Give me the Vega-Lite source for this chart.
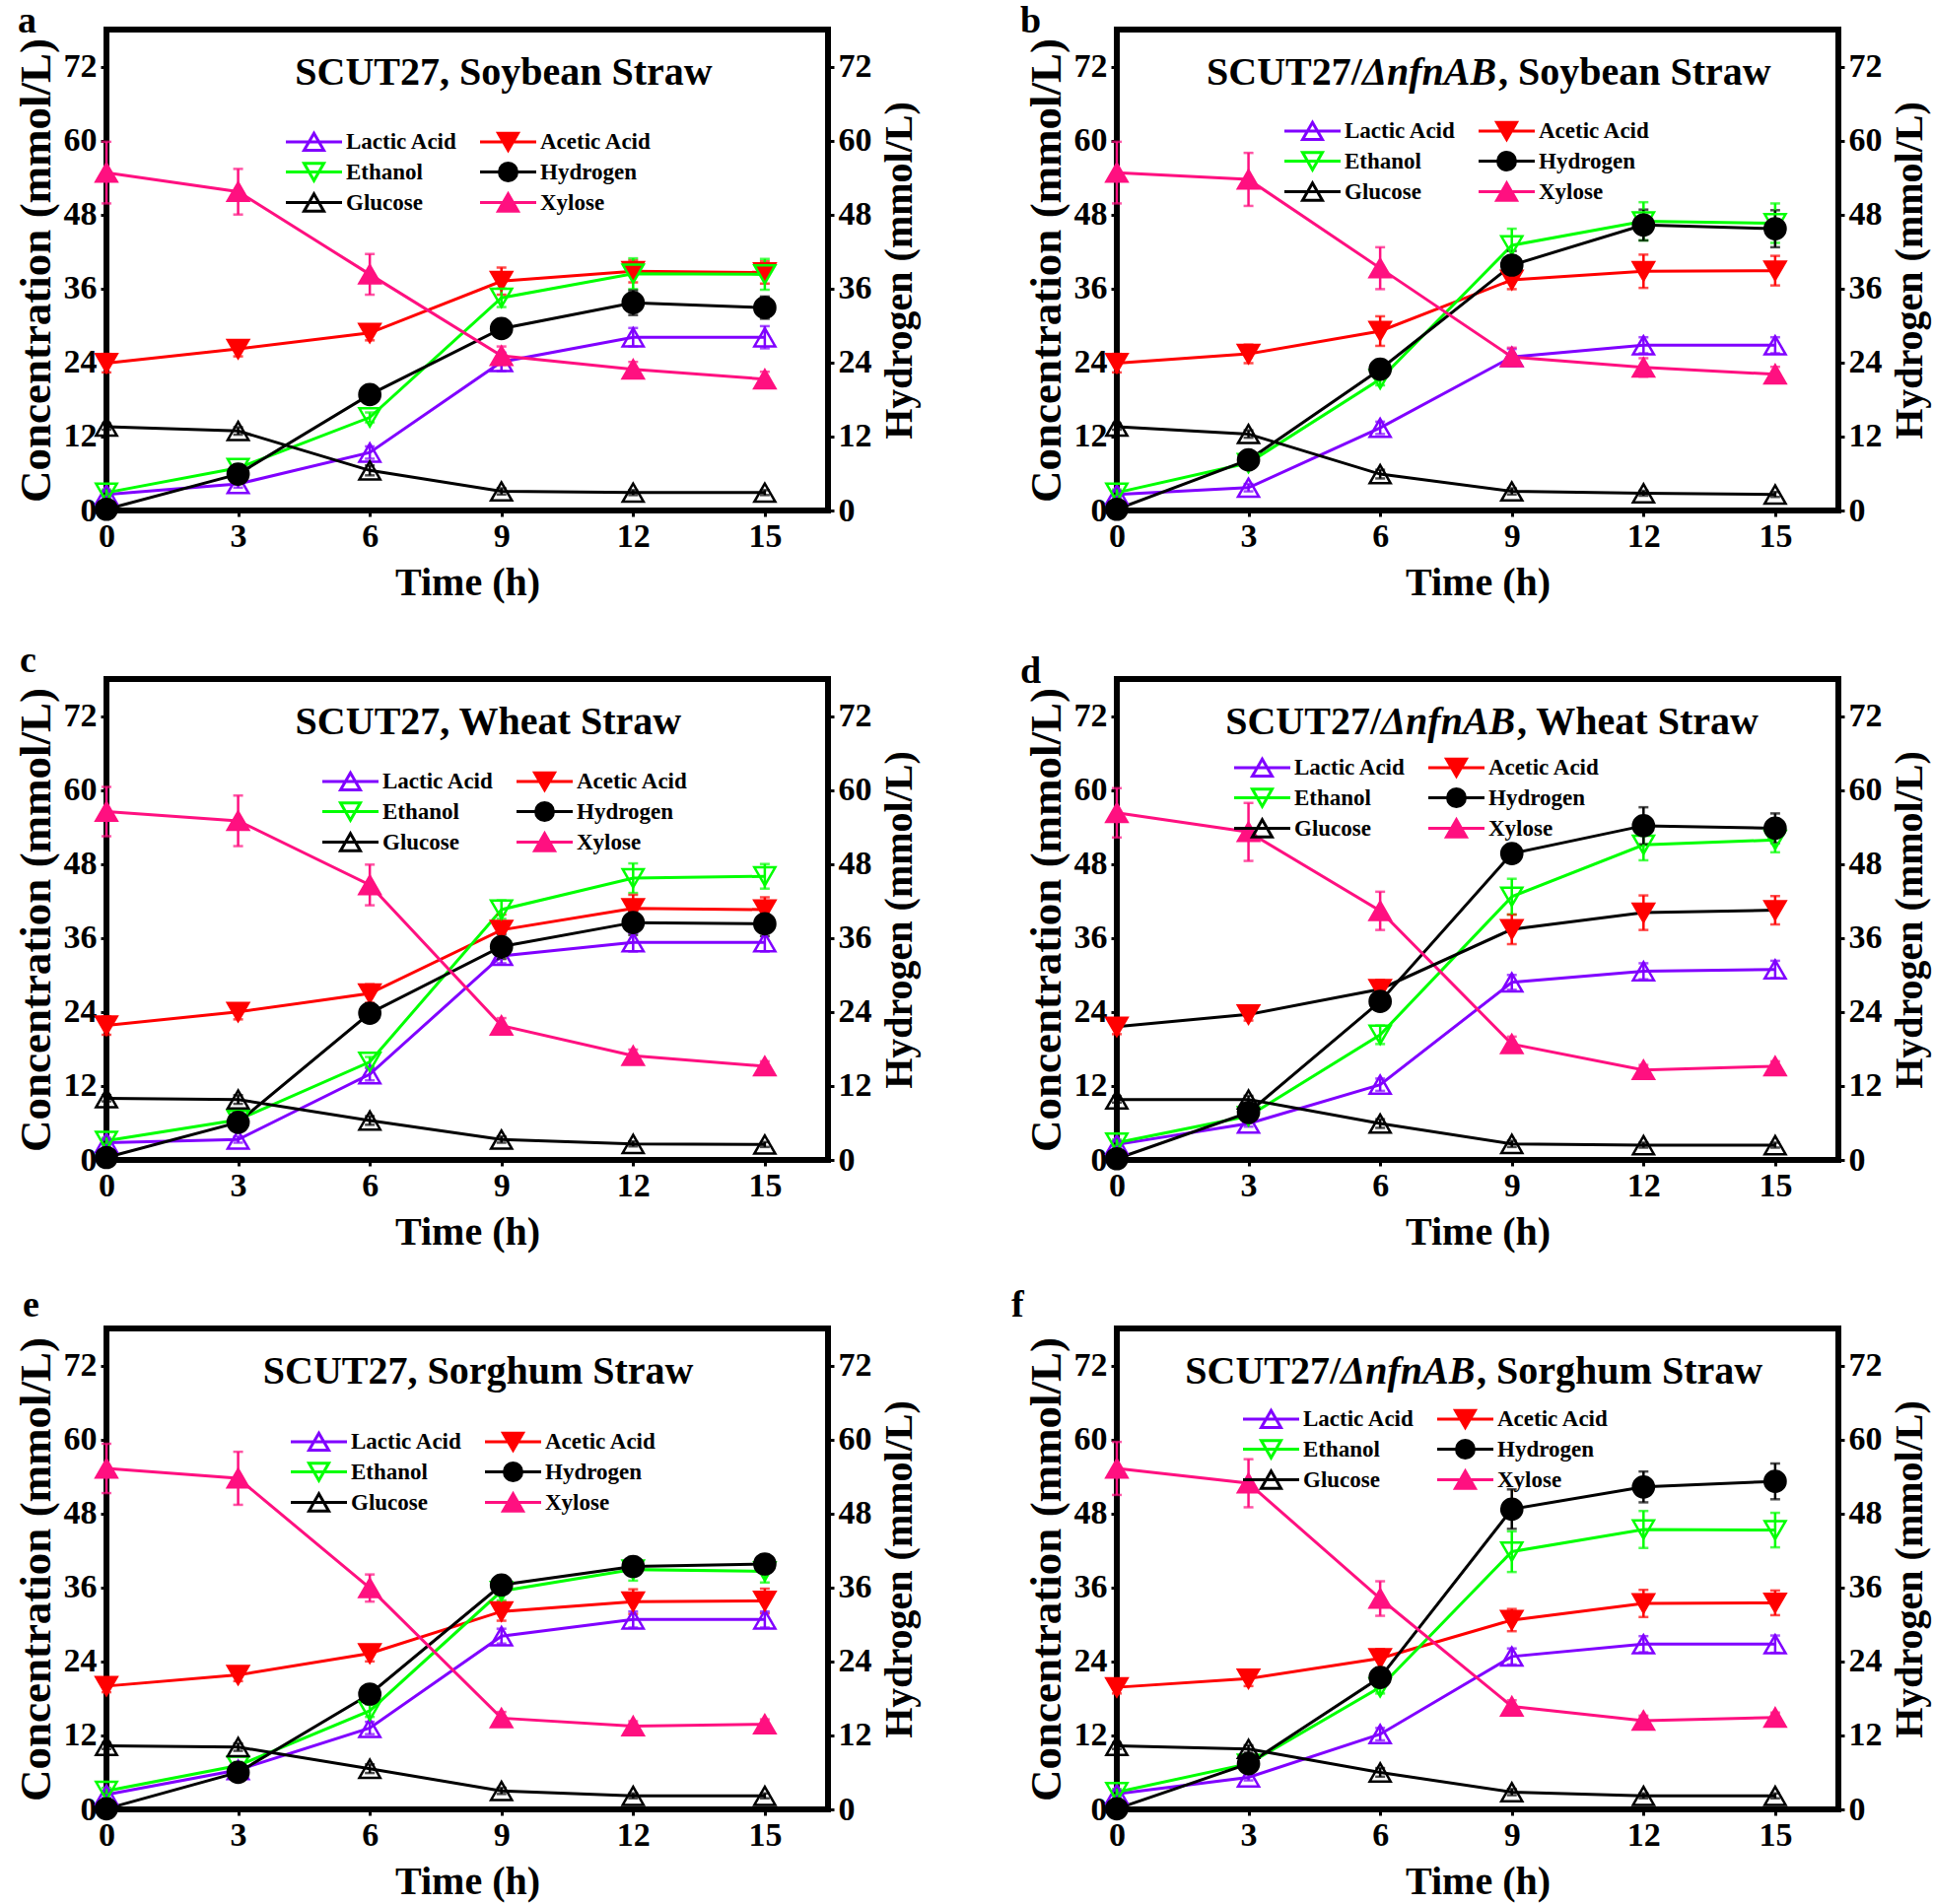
{
"$schema":"https://vega.github.io/schema/vega-lite/v6.json",
"padding":{"left":10,"top":0,"right":0,"bottom":0},
"data":{"values":[
{"p":"a","s":"Lactic Acid","t":0,"v":2.6,"e":0.5},{"p":"a","s":"Lactic Acid","t":3,"v":4.3,"e":0.6},{"p":"a","s":"Lactic Acid","t":6,"v":9.4,"e":1.0},{"p":"a","s":"Lactic Acid","t":9,"v":24.1,"e":1.5},{"p":"a","s":"Lactic Acid","t":12,"v":28.1,"e":1.5},{"p":"a","s":"Lactic Acid","t":15,"v":28.1,"e":1.8},
{"p":"a","s":"Acetic Acid","t":0,"v":23.9,"e":1.5},{"p":"a","s":"Acetic Acid","t":3,"v":26.2,"e":1.2},{"p":"a","s":"Acetic Acid","t":6,"v":28.8,"e":1.2},{"p":"a","s":"Acetic Acid","t":9,"v":37.2,"e":2.2},{"p":"a","s":"Acetic Acid","t":12,"v":38.8,"e":1.8},{"p":"a","s":"Acetic Acid","t":15,"v":38.6,"e":1.8},
{"p":"a","s":"Ethanol","t":0,"v":2.9,"e":0.5},{"p":"a","s":"Ethanol","t":3,"v":6.9,"e":0.6},{"p":"a","s":"Ethanol","t":6,"v":15.1,"e":0.8},{"p":"a","s":"Ethanol","t":9,"v":34.5,"e":1.5},{"p":"a","s":"Ethanol","t":12,"v":38.4,"e":2.5},{"p":"a","s":"Ethanol","t":15,"v":38.3,"e":2.5},
{"p":"a","s":"Hydrogen","t":0,"v":0.2,"e":0.3},{"p":"a","s":"Hydrogen","t":3,"v":5.9,"e":0.6},{"p":"a","s":"Hydrogen","t":6,"v":18.8,"e":1.0},{"p":"a","s":"Hydrogen","t":9,"v":29.5,"e":1.2},{"p":"a","s":"Hydrogen","t":12,"v":33.7,"e":2.0},{"p":"a","s":"Hydrogen","t":15,"v":32.9,"e":1.8},
{"p":"a","s":"Glucose","t":0,"v":13.6,"e":0.5},{"p":"a","s":"Glucose","t":3,"v":12.9,"e":0.6},{"p":"a","s":"Glucose","t":6,"v":6.5,"e":0.8},{"p":"a","s":"Glucose","t":9,"v":3.1,"e":0.5},{"p":"a","s":"Glucose","t":12,"v":2.9,"e":0.4},{"p":"a","s":"Glucose","t":15,"v":2.9,"e":0.4},
{"p":"a","s":"Xylose","t":0,"v":54.8,"e":5.0},{"p":"a","s":"Xylose","t":3,"v":51.7,"e":3.7},{"p":"a","s":"Xylose","t":6,"v":38.3,"e":3.3},{"p":"a","s":"Xylose","t":9,"v":25.1,"e":1.5},{"p":"a","s":"Xylose","t":12,"v":22.9,"e":1.2},{"p":"a","s":"Xylose","t":15,"v":21.3,"e":1.2},
{"p":"b","s":"Lactic Acid","t":0,"v":2.6,"e":0.5},{"p":"b","s":"Lactic Acid","t":3,"v":3.7,"e":0.6},{"p":"b","s":"Lactic Acid","t":6,"v":13.4,"e":1.0},{"p":"b","s":"Lactic Acid","t":9,"v":24.9,"e":1.3},{"p":"b","s":"Lactic Acid","t":12,"v":26.8,"e":1.3},{"p":"b","s":"Lactic Acid","t":15,"v":26.8,"e":1.3},
{"p":"b","s":"Acetic Acid","t":0,"v":23.9,"e":1.5},{"p":"b","s":"Acetic Acid","t":3,"v":25.4,"e":1.5},{"p":"b","s":"Acetic Acid","t":6,"v":29.1,"e":2.4},{"p":"b","s":"Acetic Acid","t":9,"v":37.4,"e":1.5},{"p":"b","s":"Acetic Acid","t":12,"v":38.8,"e":2.7},{"p":"b","s":"Acetic Acid","t":15,"v":38.9,"e":2.4},
{"p":"b","s":"Ethanol","t":0,"v":2.9,"e":0.5},{"p":"b","s":"Ethanol","t":3,"v":7.7,"e":0.6},{"p":"b","s":"Ethanol","t":6,"v":21.3,"e":1.0},{"p":"b","s":"Ethanol","t":9,"v":43.0,"e":2.7},{"p":"b","s":"Ethanol","t":12,"v":46.9,"e":3.1},{"p":"b","s":"Ethanol","t":15,"v":46.6,"e":3.2},
{"p":"b","s":"Hydrogen","t":0,"v":0.2,"e":0.3},{"p":"b","s":"Hydrogen","t":3,"v":8.2,"e":0.8},{"p":"b","s":"Hydrogen","t":6,"v":22.9,"e":1.2},{"p":"b","s":"Hydrogen","t":9,"v":39.8,"e":2.3},{"p":"b","s":"Hydrogen","t":12,"v":46.3,"e":2.5},{"p":"b","s":"Hydrogen","t":15,"v":45.7,"e":3.0},
{"p":"b","s":"Glucose","t":0,"v":13.6,"e":0.5},{"p":"b","s":"Glucose","t":3,"v":12.4,"e":0.6},{"p":"b","s":"Glucose","t":6,"v":5.9,"e":0.7},{"p":"b","s":"Glucose","t":9,"v":3.1,"e":0.5},{"p":"b","s":"Glucose","t":12,"v":2.8,"e":0.4},{"p":"b","s":"Glucose","t":15,"v":2.6,"e":0.4},
{"p":"b","s":"Xylose","t":0,"v":54.8,"e":5.0},{"p":"b","s":"Xylose","t":3,"v":53.7,"e":4.3},{"p":"b","s":"Xylose","t":6,"v":39.3,"e":3.4},{"p":"b","s":"Xylose","t":9,"v":24.9,"e":1.5},{"p":"b","s":"Xylose","t":12,"v":23.2,"e":1.5},{"p":"b","s":"Xylose","t":15,"v":22.1,"e":1.2},
{"p":"c","s":"Lactic Acid","t":0,"v":2.8,"e":0.5},{"p":"c","s":"Lactic Acid","t":3,"v":3.3,"e":0.5},{"p":"c","s":"Lactic Acid","t":6,"v":13.9,"e":1.0},{"p":"c","s":"Lactic Acid","t":9,"v":33.1,"e":1.2},{"p":"c","s":"Lactic Acid","t":12,"v":35.3,"e":1.5},{"p":"c","s":"Lactic Acid","t":15,"v":35.3,"e":1.5},
{"p":"c","s":"Acetic Acid","t":0,"v":21.8,"e":1.5},{"p":"c","s":"Acetic Acid","t":3,"v":24.0,"e":1.2},{"p":"c","s":"Acetic Acid","t":6,"v":27.0,"e":1.5},{"p":"c","s":"Acetic Acid","t":9,"v":37.3,"e":2.5},{"p":"c","s":"Acetic Acid","t":12,"v":40.8,"e":2.2},{"p":"c","s":"Acetic Acid","t":15,"v":40.6,"e":2.0},
{"p":"c","s":"Ethanol","t":0,"v":3.1,"e":0.5},{"p":"c","s":"Ethanol","t":3,"v":6.5,"e":0.6},{"p":"c","s":"Ethanol","t":6,"v":15.9,"e":0.8},{"p":"c","s":"Ethanol","t":9,"v":40.6,"e":1.5},{"p":"c","s":"Ethanol","t":12,"v":45.7,"e":2.4},{"p":"c","s":"Ethanol","t":15,"v":46.0,"e":2.0},
{"p":"c","s":"Hydrogen","t":0,"v":0.4,"e":0.3},{"p":"c","s":"Hydrogen","t":3,"v":6.1,"e":0.6},{"p":"c","s":"Hydrogen","t":6,"v":23.8,"e":1.0},{"p":"c","s":"Hydrogen","t":9,"v":34.6,"e":2.0},{"p":"c","s":"Hydrogen","t":12,"v":38.5,"e":2.0},{"p":"c","s":"Hydrogen","t":15,"v":38.3,"e":2.0},
{"p":"c","s":"Glucose","t":0,"v":10.0,"e":0.5},{"p":"c","s":"Glucose","t":3,"v":9.8,"e":0.7},{"p":"c","s":"Glucose","t":6,"v":6.4,"e":0.7},{"p":"c","s":"Glucose","t":9,"v":3.3,"e":0.5},{"p":"c","s":"Glucose","t":12,"v":2.6,"e":0.4},{"p":"c","s":"Glucose","t":15,"v":2.5,"e":0.4},
{"p":"c","s":"Xylose","t":0,"v":56.5,"e":4.0},{"p":"c","s":"Xylose","t":3,"v":55.0,"e":4.1},{"p":"c","s":"Xylose","t":6,"v":44.6,"e":3.3},{"p":"c","s":"Xylose","t":9,"v":21.8,"e":1.2},{"p":"c","s":"Xylose","t":12,"v":16.9,"e":1.0},{"p":"c","s":"Xylose","t":15,"v":15.2,"e":0.8},
{"p":"d","s":"Lactic Acid","t":0,"v":2.5,"e":0.5},{"p":"d","s":"Lactic Acid","t":3,"v":5.9,"e":0.5},{"p":"d","s":"Lactic Acid","t":6,"v":12.2,"e":1.0},{"p":"d","s":"Lactic Acid","t":9,"v":28.8,"e":1.2},{"p":"d","s":"Lactic Acid","t":12,"v":30.6,"e":1.3},{"p":"d","s":"Lactic Acid","t":15,"v":30.9,"e":1.4},
{"p":"d","s":"Acetic Acid","t":0,"v":21.6,"e":1.2},{"p":"d","s":"Acetic Acid","t":3,"v":23.6,"e":1.0},{"p":"d","s":"Acetic Acid","t":6,"v":27.7,"e":1.5},{"p":"d","s":"Acetic Acid","t":9,"v":37.4,"e":2.4},{"p":"d","s":"Acetic Acid","t":12,"v":40.1,"e":2.8},{"p":"d","s":"Acetic Acid","t":15,"v":40.5,"e":2.3},
{"p":"d","s":"Ethanol","t":0,"v":2.8,"e":0.5},{"p":"d","s":"Ethanol","t":3,"v":7.1,"e":0.6},{"p":"d","s":"Ethanol","t":6,"v":20.3,"e":1.5},{"p":"d","s":"Ethanol","t":9,"v":42.7,"e":2.9},{"p":"d","s":"Ethanol","t":12,"v":51.1,"e":2.5},{"p":"d","s":"Ethanol","t":15,"v":51.9,"e":2.0},
{"p":"d","s":"Hydrogen","t":0,"v":0.2,"e":0.3},{"p":"d","s":"Hydrogen","t":3,"v":7.7,"e":0.8},{"p":"d","s":"Hydrogen","t":6,"v":25.7,"e":1.0},{"p":"d","s":"Hydrogen","t":9,"v":49.7,"e":1.5},{"p":"d","s":"Hydrogen","t":12,"v":54.2,"e":3.0},{"p":"d","s":"Hydrogen","t":15,"v":53.8,"e":2.4},
{"p":"d","s":"Glucose","t":0,"v":9.8,"e":0.5},{"p":"d","s":"Glucose","t":3,"v":9.8,"e":0.6},{"p":"d","s":"Glucose","t":6,"v":5.9,"e":0.7},{"p":"d","s":"Glucose","t":9,"v":2.6,"e":0.5},{"p":"d","s":"Glucose","t":12,"v":2.4,"e":0.4},{"p":"d","s":"Glucose","t":15,"v":2.4,"e":0.4},
{"p":"d","s":"Xylose","t":0,"v":56.3,"e":4.0},{"p":"d","s":"Xylose","t":3,"v":53.2,"e":4.7},{"p":"d","s":"Xylose","t":6,"v":40.4,"e":3.1},{"p":"d","s":"Xylose","t":9,"v":18.8,"e":1.2},{"p":"d","s":"Xylose","t":12,"v":14.6,"e":0.8},{"p":"d","s":"Xylose","t":15,"v":15.2,"e":0.8},
{"p":"e","s":"Lactic Acid","t":0,"v":2.4,"e":0.5},{"p":"e","s":"Lactic Acid","t":3,"v":6.4,"e":0.5},{"p":"e","s":"Lactic Acid","t":6,"v":13.2,"e":1.0},{"p":"e","s":"Lactic Acid","t":9,"v":28.1,"e":1.2},{"p":"e","s":"Lactic Acid","t":12,"v":30.8,"e":1.3},{"p":"e","s":"Lactic Acid","t":15,"v":30.8,"e":1.3},
{"p":"e","s":"Acetic Acid","t":0,"v":20.0,"e":1.0},{"p":"e","s":"Acetic Acid","t":3,"v":21.8,"e":1.0},{"p":"e","s":"Acetic Acid","t":6,"v":25.3,"e":1.3},{"p":"e","s":"Acetic Acid","t":9,"v":32.1,"e":1.5},{"p":"e","s":"Acetic Acid","t":12,"v":33.7,"e":2.0},{"p":"e","s":"Acetic Acid","t":15,"v":33.8,"e":2.0},
{"p":"e","s":"Ethanol","t":0,"v":3.0,"e":0.5},{"p":"e","s":"Ethanol","t":3,"v":7.1,"e":0.6},{"p":"e","s":"Ethanol","t":6,"v":16.0,"e":1.0},{"p":"e","s":"Ethanol","t":9,"v":35.4,"e":1.5},{"p":"e","s":"Ethanol","t":12,"v":38.9,"e":1.8},{"p":"e","s":"Ethanol","t":15,"v":38.6,"e":1.8},
{"p":"e","s":"Hydrogen","t":0,"v":0.1,"e":0.3},{"p":"e","s":"Hydrogen","t":3,"v":6.0,"e":0.6},{"p":"e","s":"Hydrogen","t":6,"v":18.7,"e":0.8},{"p":"e","s":"Hydrogen","t":9,"v":36.4,"e":1.2},{"p":"e","s":"Hydrogen","t":12,"v":39.4,"e":1.5},{"p":"e","s":"Hydrogen","t":15,"v":39.8,"e":1.5},
{"p":"e","s":"Glucose","t":0,"v":10.3,"e":0.5},{"p":"e","s":"Glucose","t":3,"v":10.1,"e":0.6},{"p":"e","s":"Glucose","t":6,"v":6.6,"e":0.7},{"p":"e","s":"Glucose","t":9,"v":3.0,"e":0.5},{"p":"e","s":"Glucose","t":12,"v":2.2,"e":0.4},{"p":"e","s":"Glucose","t":15,"v":2.2,"e":0.4},
{"p":"e","s":"Xylose","t":0,"v":55.3,"e":4.0},{"p":"e","s":"Xylose","t":3,"v":53.7,"e":4.3},{"p":"e","s":"Xylose","t":6,"v":35.9,"e":2.2},{"p":"e","s":"Xylose","t":9,"v":14.8,"e":1.0},{"p":"e","s":"Xylose","t":12,"v":13.5,"e":0.8},{"p":"e","s":"Xylose","t":15,"v":13.8,"e":0.8},
{"p":"f","s":"Lactic Acid","t":0,"v":2.5,"e":0.5},{"p":"f","s":"Lactic Acid","t":3,"v":5.2,"e":0.5},{"p":"f","s":"Lactic Acid","t":6,"v":12.2,"e":1.0},{"p":"f","s":"Lactic Acid","t":9,"v":24.8,"e":1.3},{"p":"f","s":"Lactic Acid","t":12,"v":26.8,"e":1.3},{"p":"f","s":"Lactic Acid","t":15,"v":26.8,"e":1.4},
{"p":"f","s":"Acetic Acid","t":0,"v":19.8,"e":1.0},{"p":"f","s":"Acetic Acid","t":3,"v":21.2,"e":1.2},{"p":"f","s":"Acetic Acid","t":6,"v":24.5,"e":1.5},{"p":"f","s":"Acetic Acid","t":9,"v":30.7,"e":1.8},{"p":"f","s":"Acetic Acid","t":12,"v":33.4,"e":2.2},{"p":"f","s":"Acetic Acid","t":15,"v":33.5,"e":2.0},
{"p":"f","s":"Ethanol","t":0,"v":2.8,"e":0.5},{"p":"f","s":"Ethanol","t":3,"v":7.4,"e":0.6},{"p":"f","s":"Ethanol","t":6,"v":19.8,"e":1.0},{"p":"f","s":"Ethanol","t":9,"v":41.8,"e":3.3},{"p":"f","s":"Ethanol","t":12,"v":45.4,"e":3.0},{"p":"f","s":"Ethanol","t":15,"v":45.3,"e":2.8},
{"p":"f","s":"Hydrogen","t":0,"v":0.1,"e":0.3},{"p":"f","s":"Hydrogen","t":3,"v":7.4,"e":0.8},{"p":"f","s":"Hydrogen","t":6,"v":21.4,"e":1.0},{"p":"f","s":"Hydrogen","t":9,"v":48.7,"e":3.2},{"p":"f","s":"Hydrogen","t":12,"v":52.3,"e":2.5},{"p":"f","s":"Hydrogen","t":15,"v":53.2,"e":2.9},
{"p":"f","s":"Glucose","t":0,"v":10.3,"e":0.5},{"p":"f","s":"Glucose","t":3,"v":9.8,"e":0.6},{"p":"f","s":"Glucose","t":6,"v":6.0,"e":0.7},{"p":"f","s":"Glucose","t":9,"v":2.8,"e":0.5},{"p":"f","s":"Glucose","t":12,"v":2.2,"e":0.4},{"p":"f","s":"Glucose","t":15,"v":2.2,"e":0.4},
{"p":"f","s":"Xylose","t":0,"v":55.3,"e":4.3},{"p":"f","s":"Xylose","t":3,"v":52.9,"e":3.9},{"p":"f","s":"Xylose","t":6,"v":34.2,"e":2.8},{"p":"f","s":"Xylose","t":9,"v":16.7,"e":1.0},{"p":"f","s":"Xylose","t":12,"v":14.4,"e":0.8},{"p":"f","s":"Xylose","t":15,"v":14.9,"e":0.8}
]},
"columns":2,
"spacing":{"row":171,"column":293},
"bounds":"flush",
"resolve":{"scale":{"x":"independent","y":"independent","color":"independent","stroke":"independent","fill":"independent","shape":"independent"},"legend":{"shape":"independent","color":"independent","stroke":"independent","fill":"independent"}},
"concat":[
{"width":732,"height":488,"title":{"text":"a","dx":-90,"offset":-11},"transform":[{"filter":"datum.p==='a'"}],
"layer":[{"layer":[
{"mark":{"type":"line","strokeWidth":3},"encoding":{"x":{"field":"t","type":"quantitative","title":"Time (h)","scale":{"domain":[0,16.44],"nice":false,"zero":false},"axis":{"values":[0,3,6,9,12,15]}},"y":{"field":"v","type":"quantitative","title":"Concentration (mmol/L)","scale":{"domain":[0,78],"nice":false},"axis":{"values":[0,12,24,36,48,60,72]}},"color":{"field":"s","type":"nominal","scale":{"domain":["Acetic Acid","Ethanol","Glucose","Hydrogen","Lactic Acid","Xylose"],"range":["#ff0000","#00ff00","#000000","#000000","#8000ff","#ff1080"]},"legend":null}}},
{"mark":{"type":"errorbar","thickness":2.5,"ticks":{"size":10,"thickness":2.5}},"encoding":{"x":{"field":"t","type":"quantitative","title":"Time (h)"},"y":{"field":"v","type":"quantitative","title":"Concentration (mmol/L)"},"yError":{"field":"e"},"color":{"field":"s","type":"nominal","legend":null}}},
{"mark":{"type":"point","size":450,"strokeWidth":2.5,"opacity":1},"encoding":{"x":{"field":"t","type":"quantitative","title":"Time (h)"},"y":{"field":"v","type":"quantitative","title":"Concentration (mmol/L)"},
"shape":{"field":"s","type":"nominal","scale":{"domain":["Acetic Acid","Ethanol","Glucose","Hydrogen","Lactic Acid","Xylose"],"range":["triangle-down","triangle-down","triangle-up","circle","triangle-up","triangle-up"]},"legend":null},
"stroke":{"field":"s","type":"nominal","scale":{"domain":["Acetic Acid","Ethanol","Glucose","Hydrogen","Lactic Acid","Xylose"],"range":["#ff0000","#00ff00","#000000","#000000","#8000ff","#ff1080"]},"legend":null},
"fill":{"field":"s","type":"nominal","scale":{"domain":["Acetic Acid","Ethanol","Glucose","Hydrogen","Lactic Acid","Xylose"],"range":["#ff0000","transparent","transparent","#000000","transparent","#ff1080"]},"legend":null}}},
{"transform":[{"filter":"false"}],"mark":{"type":"point","strokeWidth":3},"encoding":{"x":{"field":"t","type":"quantitative","title":"Time (h)"},"y":{"field":"v","type":"quantitative","title":"Concentration (mmol/L)"},
"shape":{"field":"s","type":"nominal","scale":{"domain":["Lactic Acid","Acetic Acid","Ethanol","Hydrogen","Glucose","Xylose"],"range":["M-2.85,0H2.85M0,-0.866L1,0.866L-1,0.866Z","M-2.85,0H2.85M0,0.866L1,-0.866L-1,-0.866Z","M-2.85,0H2.85M0,0.866L1,-0.866L-1,-0.866Z","M-2.85,0H2.85M0.9,0A0.9,0.9,0,1,1,-0.9,0A0.9,0.9,0,1,1,0.9,0Z","M-2.85,0H2.85M0,-0.866L1,0.866L-1,0.866Z","M-2.85,0H2.85M0,-0.866L1,0.866L-1,0.866Z"]},"legend":{"title":null,"orient":"none","direction":"horizontal","columns":2,"legendX":180,"legendY":102}},
"stroke":{"field":"s","type":"nominal","scale":{"domain":["Lactic Acid","Acetic Acid","Ethanol","Hydrogen","Glucose","Xylose"],"range":["#8000ff","#ff0000","#00ff00","#000000","#000000","#ff1080"]}},
"fill":{"field":"s","type":"nominal","scale":{"domain":["Lactic Acid","Acetic Acid","Ethanol","Hydrogen","Glucose","Xylose"],"range":["transparent","#ff0000","transparent","#000000","transparent","#ff1080"]}}}},
{"data":{"values":[{}]},"mark":{"type":"text","font":"Liberation Serif","fontSize":40,"fontWeight":"bold","align":"center","baseline":"alphabetic","color":"black"},"encoding":{"x":{"datum":9.05,"type":"quantitative","title":"Time (h)"},"y":{"datum":69,"type":"quantitative","title":"Concentration (mmol/L)"},"text":{"value":"SCUT27, Soybean Straw"}}}
],"resolve":{"scale":{"shape":"independent","stroke":"independent","fill":"independent"}}},
{"transform":[{"filter":"datum.s==='Hydrogen'"}],"mark":{"type":"point","opacity":0},"encoding":{"x":{"field":"t","type":"quantitative","title":"Time (h)"},"y":{"field":"v","type":"quantitative","title":"Hydrogen (mmol/L)","scale":{"domain":[0,78],"nice":false},"axis":{"values":[0,12,24,36,48,60,72],"orient":"right"}}}}
],"resolve":{"scale":{"y":"independent"}}},

{"width":732,"height":488,"title":{"text":"b","dx":-98,"offset":-11},"transform":[{"filter":"datum.p==='b'"}],
"layer":[{"layer":[
{"mark":{"type":"line","strokeWidth":3},"encoding":{"x":{"field":"t","type":"quantitative","title":"Time (h)","scale":{"domain":[0,16.44],"nice":false,"zero":false},"axis":{"values":[0,3,6,9,12,15]}},"y":{"field":"v","type":"quantitative","title":"Concentration (mmol/L)","scale":{"domain":[0,78],"nice":false},"axis":{"values":[0,12,24,36,48,60,72]}},"color":{"field":"s","type":"nominal","scale":{"domain":["Acetic Acid","Ethanol","Glucose","Hydrogen","Lactic Acid","Xylose"],"range":["#ff0000","#00ff00","#000000","#000000","#8000ff","#ff1080"]},"legend":null}}},
{"mark":{"type":"errorbar","thickness":2.5,"ticks":{"size":10,"thickness":2.5}},"encoding":{"x":{"field":"t","type":"quantitative","title":"Time (h)"},"y":{"field":"v","type":"quantitative","title":"Concentration (mmol/L)"},"yError":{"field":"e"},"color":{"field":"s","type":"nominal","legend":null}}},
{"mark":{"type":"point","size":450,"strokeWidth":2.5,"opacity":1},"encoding":{"x":{"field":"t","type":"quantitative","title":"Time (h)"},"y":{"field":"v","type":"quantitative","title":"Concentration (mmol/L)"},
"shape":{"field":"s","type":"nominal","scale":{"domain":["Acetic Acid","Ethanol","Glucose","Hydrogen","Lactic Acid","Xylose"],"range":["triangle-down","triangle-down","triangle-up","circle","triangle-up","triangle-up"]},"legend":null},
"stroke":{"field":"s","type":"nominal","scale":{"domain":["Acetic Acid","Ethanol","Glucose","Hydrogen","Lactic Acid","Xylose"],"range":["#ff0000","#00ff00","#000000","#000000","#8000ff","#ff1080"]},"legend":null},
"fill":{"field":"s","type":"nominal","scale":{"domain":["Acetic Acid","Ethanol","Glucose","Hydrogen","Lactic Acid","Xylose"],"range":["#ff0000","transparent","transparent","#000000","transparent","#ff1080"]},"legend":null}}},
{"transform":[{"filter":"false"}],"mark":{"type":"point","strokeWidth":3},"encoding":{"x":{"field":"t","type":"quantitative","title":"Time (h)"},"y":{"field":"v","type":"quantitative","title":"Concentration (mmol/L)"},
"shape":{"field":"s","type":"nominal","scale":{"domain":["Lactic Acid","Acetic Acid","Ethanol","Hydrogen","Glucose","Xylose"],"range":["M-2.85,0H2.85M0,-0.866L1,0.866L-1,0.866Z","M-2.85,0H2.85M0,0.866L1,-0.866L-1,-0.866Z","M-2.85,0H2.85M0,0.866L1,-0.866L-1,-0.866Z","M-2.85,0H2.85M0.9,0A0.9,0.9,0,1,1,-0.9,0A0.9,0.9,0,1,1,0.9,0Z","M-2.85,0H2.85M0,-0.866L1,0.866L-1,0.866Z","M-2.85,0H2.85M0,-0.866L1,0.866L-1,0.866Z"]},"legend":{"title":null,"orient":"none","direction":"horizontal","columns":2,"legendX":168,"legendY":91}},
"stroke":{"field":"s","type":"nominal","scale":{"domain":["Lactic Acid","Acetic Acid","Ethanol","Hydrogen","Glucose","Xylose"],"range":["#8000ff","#ff0000","#00ff00","#000000","#000000","#ff1080"]}},
"fill":{"field":"s","type":"nominal","scale":{"domain":["Lactic Acid","Acetic Acid","Ethanol","Hydrogen","Glucose","Xylose"],"range":["transparent","#ff0000","transparent","#000000","transparent","#ff1080"]}}}},
{"data":{"values":[{}]},"mark":{"type":"text","font":"Liberation Serif","fontSize":40,"fontWeight":"bold","align":"right","baseline":"alphabetic","color":"black"},"encoding":{"x":{"datum":5.59,"type":"quantitative","title":"Time (h)"},"y":{"datum":69,"type":"quantitative","title":"Concentration (mmol/L)"},"text":{"value":"SCUT27/"}}},
{"data":{"values":[{}]},"mark":{"type":"text","font":"Liberation Serif","fontSize":40,"fontWeight":"bold","fontStyle":"italic","align":"left","baseline":"alphabetic","color":"black"},"encoding":{"x":{"datum":5.59,"type":"quantitative","title":"Time (h)"},"y":{"datum":69,"type":"quantitative","title":"Concentration (mmol/L)"},"text":{"value":"ΔnfnAB"}}},
{"data":{"values":[{}]},"mark":{"type":"text","font":"Liberation Serif","fontSize":40,"fontWeight":"bold","align":"left","baseline":"alphabetic","color":"black"},"encoding":{"x":{"datum":8.69,"type":"quantitative","title":"Time (h)"},"y":{"datum":69,"type":"quantitative","title":"Concentration (mmol/L)"},"text":{"value":", Soybean Straw"}}}
],"resolve":{"scale":{"shape":"independent","stroke":"independent","fill":"independent"}}},
{"transform":[{"filter":"datum.s==='Hydrogen'"}],"mark":{"type":"point","opacity":0},"encoding":{"x":{"field":"t","type":"quantitative","title":"Time (h)"},"y":{"field":"v","type":"quantitative","title":"Hydrogen (mmol/L)","scale":{"domain":[0,78],"nice":false},"axis":{"values":[0,12,24,36,48,60,72],"orient":"right"}}}}
],"resolve":{"scale":{"y":"independent"}}},

{"width":732,"height":488,"title":{"text":"c","dx":-88,"offset":-1},"transform":[{"filter":"datum.p==='c'"}],
"layer":[{"layer":[
{"mark":{"type":"line","strokeWidth":3},"encoding":{"x":{"field":"t","type":"quantitative","title":"Time (h)","scale":{"domain":[0,16.44],"nice":false,"zero":false},"axis":{"values":[0,3,6,9,12,15]}},"y":{"field":"v","type":"quantitative","title":"Concentration (mmol/L)","scale":{"domain":[0,78],"nice":false},"axis":{"values":[0,12,24,36,48,60,72]}},"color":{"field":"s","type":"nominal","scale":{"domain":["Acetic Acid","Ethanol","Glucose","Hydrogen","Lactic Acid","Xylose"],"range":["#ff0000","#00ff00","#000000","#000000","#8000ff","#ff1080"]},"legend":null}}},
{"mark":{"type":"errorbar","thickness":2.5,"ticks":{"size":10,"thickness":2.5}},"encoding":{"x":{"field":"t","type":"quantitative","title":"Time (h)"},"y":{"field":"v","type":"quantitative","title":"Concentration (mmol/L)"},"yError":{"field":"e"},"color":{"field":"s","type":"nominal","legend":null}}},
{"mark":{"type":"point","size":450,"strokeWidth":2.5,"opacity":1},"encoding":{"x":{"field":"t","type":"quantitative","title":"Time (h)"},"y":{"field":"v","type":"quantitative","title":"Concentration (mmol/L)"},
"shape":{"field":"s","type":"nominal","scale":{"domain":["Acetic Acid","Ethanol","Glucose","Hydrogen","Lactic Acid","Xylose"],"range":["triangle-down","triangle-down","triangle-up","circle","triangle-up","triangle-up"]},"legend":null},
"stroke":{"field":"s","type":"nominal","scale":{"domain":["Acetic Acid","Ethanol","Glucose","Hydrogen","Lactic Acid","Xylose"],"range":["#ff0000","#00ff00","#000000","#000000","#8000ff","#ff1080"]},"legend":null},
"fill":{"field":"s","type":"nominal","scale":{"domain":["Acetic Acid","Ethanol","Glucose","Hydrogen","Lactic Acid","Xylose"],"range":["#ff0000","transparent","transparent","#000000","transparent","#ff1080"]},"legend":null}}},
{"transform":[{"filter":"false"}],"mark":{"type":"point","strokeWidth":3},"encoding":{"x":{"field":"t","type":"quantitative","title":"Time (h)"},"y":{"field":"v","type":"quantitative","title":"Concentration (mmol/L)"},
"shape":{"field":"s","type":"nominal","scale":{"domain":["Lactic Acid","Acetic Acid","Ethanol","Hydrogen","Glucose","Xylose"],"range":["M-2.85,0H2.85M0,-0.866L1,0.866L-1,0.866Z","M-2.85,0H2.85M0,0.866L1,-0.866L-1,-0.866Z","M-2.85,0H2.85M0,0.866L1,-0.866L-1,-0.866Z","M-2.85,0H2.85M0.9,0A0.9,0.9,0,1,1,-0.9,0A0.9,0.9,0,1,1,0.9,0Z","M-2.85,0H2.85M0,-0.866L1,0.866L-1,0.866Z","M-2.85,0H2.85M0,-0.866L1,0.866L-1,0.866Z"]},"legend":{"title":null,"orient":"none","direction":"horizontal","columns":2,"legendX":217,"legendY":92}},
"stroke":{"field":"s","type":"nominal","scale":{"domain":["Lactic Acid","Acetic Acid","Ethanol","Hydrogen","Glucose","Xylose"],"range":["#8000ff","#ff0000","#00ff00","#000000","#000000","#ff1080"]}},
"fill":{"field":"s","type":"nominal","scale":{"domain":["Lactic Acid","Acetic Acid","Ethanol","Hydrogen","Glucose","Xylose"],"range":["transparent","#ff0000","transparent","#000000","transparent","#ff1080"]}}}},
{"data":{"values":[{}]},"mark":{"type":"text","font":"Liberation Serif","fontSize":40,"fontWeight":"bold","align":"center","baseline":"alphabetic","color":"black"},"encoding":{"x":{"datum":8.70,"type":"quantitative","title":"Time (h)"},"y":{"datum":69,"type":"quantitative","title":"Concentration (mmol/L)"},"text":{"value":"SCUT27, Wheat Straw"}}}
],"resolve":{"scale":{"shape":"independent","stroke":"independent","fill":"independent"}}},
{"transform":[{"filter":"datum.s==='Hydrogen'"}],"mark":{"type":"point","opacity":0},"encoding":{"x":{"field":"t","type":"quantitative","title":"Time (h)"},"y":{"field":"v","type":"quantitative","title":"Hydrogen (mmol/L)","scale":{"domain":[0,78],"nice":false},"axis":{"values":[0,12,24,36,48,60,72],"orient":"right"}}}}
],"resolve":{"scale":{"y":"independent"}}},

{"width":732,"height":488,"title":{"text":"d","dx":-98,"offset":-12},"transform":[{"filter":"datum.p==='d'"}],
"layer":[{"layer":[
{"transform":[{"filter":"datum.s!=='Acetic Acid'"}],"mark":{"type":"line","strokeWidth":3},"encoding":{"x":{"field":"t","type":"quantitative","title":"Time (h)","scale":{"domain":[0,16.44],"nice":false,"zero":false},"axis":{"values":[0,3,6,9,12,15]}},"y":{"field":"v","type":"quantitative","title":"Concentration (mmol/L)","scale":{"domain":[0,78],"nice":false},"axis":{"values":[0,12,24,36,48,60,72]}},"color":{"field":"s","type":"nominal","scale":{"domain":["Acetic Acid","Ethanol","Glucose","Hydrogen","Lactic Acid","Xylose"],"range":["#ff0000","#00ff00","#000000","#000000","#8000ff","#ff1080"]},"legend":null}}},
{"transform":[{"filter":"datum.s==='Acetic Acid'"}],"mark":{"type":"line","strokeWidth":3,"color":"#000000"},"encoding":{"x":{"field":"t","type":"quantitative","title":"Time (h)"},"y":{"field":"v","type":"quantitative","title":"Concentration (mmol/L)"}}},
{"mark":{"type":"errorbar","thickness":2.5,"ticks":{"size":10,"thickness":2.5}},"encoding":{"x":{"field":"t","type":"quantitative","title":"Time (h)"},"y":{"field":"v","type":"quantitative","title":"Concentration (mmol/L)"},"yError":{"field":"e"},"color":{"field":"s","type":"nominal","legend":null}}},
{"mark":{"type":"point","size":450,"strokeWidth":2.5,"opacity":1},"encoding":{"x":{"field":"t","type":"quantitative","title":"Time (h)"},"y":{"field":"v","type":"quantitative","title":"Concentration (mmol/L)"},
"shape":{"field":"s","type":"nominal","scale":{"domain":["Acetic Acid","Ethanol","Glucose","Hydrogen","Lactic Acid","Xylose"],"range":["triangle-down","triangle-down","triangle-up","circle","triangle-up","triangle-up"]},"legend":null},
"stroke":{"field":"s","type":"nominal","scale":{"domain":["Acetic Acid","Ethanol","Glucose","Hydrogen","Lactic Acid","Xylose"],"range":["#ff0000","#00ff00","#000000","#000000","#8000ff","#ff1080"]},"legend":null},
"fill":{"field":"s","type":"nominal","scale":{"domain":["Acetic Acid","Ethanol","Glucose","Hydrogen","Lactic Acid","Xylose"],"range":["#ff0000","transparent","transparent","#000000","transparent","#ff1080"]},"legend":null}}},
{"transform":[{"filter":"false"}],"mark":{"type":"point","strokeWidth":3},"encoding":{"x":{"field":"t","type":"quantitative","title":"Time (h)"},"y":{"field":"v","type":"quantitative","title":"Concentration (mmol/L)"},
"shape":{"field":"s","type":"nominal","scale":{"domain":["Lactic Acid","Acetic Acid","Ethanol","Hydrogen","Glucose","Xylose"],"range":["M-2.85,0H2.85M0,-0.866L1,0.866L-1,0.866Z","M-2.85,0H2.85M0,0.866L1,-0.866L-1,-0.866Z","M-2.85,0H2.85M0,0.866L1,-0.866L-1,-0.866Z","M-2.85,0H2.85M0.9,0A0.9,0.9,0,1,1,-0.9,0A0.9,0.9,0,1,1,0.9,0Z","M-2.85,0H2.85M0,-0.866L1,0.866L-1,0.866Z","M-2.85,0H2.85M0,-0.866L1,0.866L-1,0.866Z"]},"legend":{"title":null,"orient":"none","direction":"horizontal","columns":2,"legendX":117,"legendY":78}},
"stroke":{"field":"s","type":"nominal","scale":{"domain":["Lactic Acid","Acetic Acid","Ethanol","Hydrogen","Glucose","Xylose"],"range":["#8000ff","#ff0000","#00ff00","#000000","#000000","#ff1080"]}},
"fill":{"field":"s","type":"nominal","scale":{"domain":["Lactic Acid","Acetic Acid","Ethanol","Hydrogen","Glucose","Xylose"],"range":["transparent","#ff0000","transparent","#000000","transparent","#ff1080"]}}}},
{"data":{"values":[{}]},"mark":{"type":"text","font":"Liberation Serif","fontSize":40,"fontWeight":"bold","align":"right","baseline":"alphabetic","color":"black"},"encoding":{"x":{"datum":6.02,"type":"quantitative","title":"Time (h)"},"y":{"datum":69,"type":"quantitative","title":"Concentration (mmol/L)"},"text":{"value":"SCUT27/"}}},
{"data":{"values":[{}]},"mark":{"type":"text","font":"Liberation Serif","fontSize":40,"fontWeight":"bold","fontStyle":"italic","align":"left","baseline":"alphabetic","color":"black"},"encoding":{"x":{"datum":6.02,"type":"quantitative","title":"Time (h)"},"y":{"datum":69,"type":"quantitative","title":"Concentration (mmol/L)"},"text":{"value":"ΔnfnAB"}}},
{"data":{"values":[{}]},"mark":{"type":"text","font":"Liberation Serif","fontSize":40,"fontWeight":"bold","align":"left","baseline":"alphabetic","color":"black"},"encoding":{"x":{"datum":9.12,"type":"quantitative","title":"Time (h)"},"y":{"datum":69,"type":"quantitative","title":"Concentration (mmol/L)"},"text":{"value":", Wheat Straw"}}}
],"resolve":{"scale":{"shape":"independent","stroke":"independent","fill":"independent"}}},
{"transform":[{"filter":"datum.s==='Hydrogen'"}],"mark":{"type":"point","opacity":0},"encoding":{"x":{"field":"t","type":"quantitative","title":"Time (h)"},"y":{"field":"v","type":"quantitative","title":"Hydrogen (mmol/L)","scale":{"domain":[0,78],"nice":false},"axis":{"values":[0,12,24,36,48,60,72],"orient":"right"}}}}
],"resolve":{"scale":{"y":"independent"}}},

{"width":732,"height":488,"title":{"text":"e","dx":-85,"offset":4},"transform":[{"filter":"datum.p==='e'"}],
"layer":[{"layer":[
{"mark":{"type":"line","strokeWidth":3},"encoding":{"x":{"field":"t","type":"quantitative","title":"Time (h)","scale":{"domain":[0,16.44],"nice":false,"zero":false},"axis":{"values":[0,3,6,9,12,15]}},"y":{"field":"v","type":"quantitative","title":"Concentration (mmol/L)","scale":{"domain":[0,78],"nice":false},"axis":{"values":[0,12,24,36,48,60,72]}},"color":{"field":"s","type":"nominal","scale":{"domain":["Acetic Acid","Ethanol","Glucose","Hydrogen","Lactic Acid","Xylose"],"range":["#ff0000","#00ff00","#000000","#000000","#8000ff","#ff1080"]},"legend":null}}},
{"mark":{"type":"errorbar","thickness":2.5,"ticks":{"size":10,"thickness":2.5}},"encoding":{"x":{"field":"t","type":"quantitative","title":"Time (h)"},"y":{"field":"v","type":"quantitative","title":"Concentration (mmol/L)"},"yError":{"field":"e"},"color":{"field":"s","type":"nominal","legend":null}}},
{"mark":{"type":"point","size":450,"strokeWidth":2.5,"opacity":1},"encoding":{"x":{"field":"t","type":"quantitative","title":"Time (h)"},"y":{"field":"v","type":"quantitative","title":"Concentration (mmol/L)"},
"shape":{"field":"s","type":"nominal","scale":{"domain":["Acetic Acid","Ethanol","Glucose","Hydrogen","Lactic Acid","Xylose"],"range":["triangle-down","triangle-down","triangle-up","circle","triangle-up","triangle-up"]},"legend":null},
"stroke":{"field":"s","type":"nominal","scale":{"domain":["Acetic Acid","Ethanol","Glucose","Hydrogen","Lactic Acid","Xylose"],"range":["#ff0000","#00ff00","#000000","#000000","#8000ff","#ff1080"]},"legend":null},
"fill":{"field":"s","type":"nominal","scale":{"domain":["Acetic Acid","Ethanol","Glucose","Hydrogen","Lactic Acid","Xylose"],"range":["#ff0000","transparent","transparent","#000000","transparent","#ff1080"]},"legend":null}}},
{"transform":[{"filter":"false"}],"mark":{"type":"point","strokeWidth":3},"encoding":{"x":{"field":"t","type":"quantitative","title":"Time (h)"},"y":{"field":"v","type":"quantitative","title":"Concentration (mmol/L)"},
"shape":{"field":"s","type":"nominal","scale":{"domain":["Lactic Acid","Acetic Acid","Ethanol","Hydrogen","Glucose","Xylose"],"range":["M-2.85,0H2.85M0,-0.866L1,0.866L-1,0.866Z","M-2.85,0H2.85M0,0.866L1,-0.866L-1,-0.866Z","M-2.85,0H2.85M0,0.866L1,-0.866L-1,-0.866Z","M-2.85,0H2.85M0.9,0A0.9,0.9,0,1,1,-0.9,0A0.9,0.9,0,1,1,0.9,0Z","M-2.85,0H2.85M0,-0.866L1,0.866L-1,0.866Z","M-2.85,0H2.85M0,-0.866L1,0.866L-1,0.866Z"]},"legend":{"title":null,"orient":"none","direction":"horizontal","columns":2,"legendX":185,"legendY":103}},
"stroke":{"field":"s","type":"nominal","scale":{"domain":["Lactic Acid","Acetic Acid","Ethanol","Hydrogen","Glucose","Xylose"],"range":["#8000ff","#ff0000","#00ff00","#000000","#000000","#ff1080"]}},
"fill":{"field":"s","type":"nominal","scale":{"domain":["Lactic Acid","Acetic Acid","Ethanol","Hydrogen","Glucose","Xylose"],"range":["transparent","#ff0000","transparent","#000000","transparent","#ff1080"]}}}},
{"data":{"values":[{}]},"mark":{"type":"text","font":"Liberation Serif","fontSize":40,"fontWeight":"bold","align":"center","baseline":"alphabetic","color":"black"},"encoding":{"x":{"datum":8.47,"type":"quantitative","title":"Time (h)"},"y":{"datum":69,"type":"quantitative","title":"Concentration (mmol/L)"},"text":{"value":"SCUT27, Sorghum Straw"}}}
],"resolve":{"scale":{"shape":"independent","stroke":"independent","fill":"independent"}}},
{"transform":[{"filter":"datum.s==='Hydrogen'"}],"mark":{"type":"point","opacity":0},"encoding":{"x":{"field":"t","type":"quantitative","title":"Time (h)"},"y":{"field":"v","type":"quantitative","title":"Hydrogen (mmol/L)","scale":{"domain":[0,78],"nice":false},"axis":{"values":[0,12,24,36,48,60,72],"orient":"right"}}}}
],"resolve":{"scale":{"y":"independent"}}},

{"width":732,"height":488,"title":{"text":"f","dx":-107,"offset":4},"transform":[{"filter":"datum.p==='f'"}],
"layer":[{"layer":[
{"mark":{"type":"line","strokeWidth":3},"encoding":{"x":{"field":"t","type":"quantitative","title":"Time (h)","scale":{"domain":[0,16.44],"nice":false,"zero":false},"axis":{"values":[0,3,6,9,12,15]}},"y":{"field":"v","type":"quantitative","title":"Concentration (mmol/L)","scale":{"domain":[0,78],"nice":false},"axis":{"values":[0,12,24,36,48,60,72]}},"color":{"field":"s","type":"nominal","scale":{"domain":["Acetic Acid","Ethanol","Glucose","Hydrogen","Lactic Acid","Xylose"],"range":["#ff0000","#00ff00","#000000","#000000","#8000ff","#ff1080"]},"legend":null}}},
{"mark":{"type":"errorbar","thickness":2.5,"ticks":{"size":10,"thickness":2.5}},"encoding":{"x":{"field":"t","type":"quantitative","title":"Time (h)"},"y":{"field":"v","type":"quantitative","title":"Concentration (mmol/L)"},"yError":{"field":"e"},"color":{"field":"s","type":"nominal","legend":null}}},
{"mark":{"type":"point","size":450,"strokeWidth":2.5,"opacity":1},"encoding":{"x":{"field":"t","type":"quantitative","title":"Time (h)"},"y":{"field":"v","type":"quantitative","title":"Concentration (mmol/L)"},
"shape":{"field":"s","type":"nominal","scale":{"domain":["Acetic Acid","Ethanol","Glucose","Hydrogen","Lactic Acid","Xylose"],"range":["triangle-down","triangle-down","triangle-up","circle","triangle-up","triangle-up"]},"legend":null},
"stroke":{"field":"s","type":"nominal","scale":{"domain":["Acetic Acid","Ethanol","Glucose","Hydrogen","Lactic Acid","Xylose"],"range":["#ff0000","#00ff00","#000000","#000000","#8000ff","#ff1080"]},"legend":null},
"fill":{"field":"s","type":"nominal","scale":{"domain":["Acetic Acid","Ethanol","Glucose","Hydrogen","Lactic Acid","Xylose"],"range":["#ff0000","transparent","transparent","#000000","transparent","#ff1080"]},"legend":null}}},
{"transform":[{"filter":"false"}],"mark":{"type":"point","strokeWidth":3},"encoding":{"x":{"field":"t","type":"quantitative","title":"Time (h)"},"y":{"field":"v","type":"quantitative","title":"Concentration (mmol/L)"},
"shape":{"field":"s","type":"nominal","scale":{"domain":["Lactic Acid","Acetic Acid","Ethanol","Hydrogen","Glucose","Xylose"],"range":["M-2.85,0H2.85M0,-0.866L1,0.866L-1,0.866Z","M-2.85,0H2.85M0,0.866L1,-0.866L-1,-0.866Z","M-2.85,0H2.85M0,0.866L1,-0.866L-1,-0.866Z","M-2.85,0H2.85M0.9,0A0.9,0.9,0,1,1,-0.9,0A0.9,0.9,0,1,1,0.9,0Z","M-2.85,0H2.85M0,-0.866L1,0.866L-1,0.866Z","M-2.85,0H2.85M0,-0.866L1,0.866L-1,0.866Z"]},"legend":{"title":null,"orient":"none","direction":"horizontal","columns":2,"legendX":126,"legendY":80}},
"stroke":{"field":"s","type":"nominal","scale":{"domain":["Lactic Acid","Acetic Acid","Ethanol","Hydrogen","Glucose","Xylose"],"range":["#8000ff","#ff0000","#00ff00","#000000","#000000","#ff1080"]}},
"fill":{"field":"s","type":"nominal","scale":{"domain":["Lactic Acid","Acetic Acid","Ethanol","Hydrogen","Glucose","Xylose"],"range":["transparent","#ff0000","transparent","#000000","transparent","#ff1080"]}}}},
{"data":{"values":[{}]},"mark":{"type":"text","font":"Liberation Serif","fontSize":40,"fontWeight":"bold","align":"right","baseline":"alphabetic","color":"black"},"encoding":{"x":{"datum":5.10,"type":"quantitative","title":"Time (h)"},"y":{"datum":69,"type":"quantitative","title":"Concentration (mmol/L)"},"text":{"value":"SCUT27/"}}},
{"data":{"values":[{}]},"mark":{"type":"text","font":"Liberation Serif","fontSize":40,"fontWeight":"bold","fontStyle":"italic","align":"left","baseline":"alphabetic","color":"black"},"encoding":{"x":{"datum":5.10,"type":"quantitative","title":"Time (h)"},"y":{"datum":69,"type":"quantitative","title":"Concentration (mmol/L)"},"text":{"value":"ΔnfnAB"}}},
{"data":{"values":[{}]},"mark":{"type":"text","font":"Liberation Serif","fontSize":40,"fontWeight":"bold","align":"left","baseline":"alphabetic","color":"black"},"encoding":{"x":{"datum":8.20,"type":"quantitative","title":"Time (h)"},"y":{"datum":69,"type":"quantitative","title":"Concentration (mmol/L)"},"text":{"value":", Sorghum Straw"}}}
],"resolve":{"scale":{"shape":"independent","stroke":"independent","fill":"independent"}}},
{"transform":[{"filter":"datum.s==='Hydrogen'"}],"mark":{"type":"point","opacity":0},"encoding":{"x":{"field":"t","type":"quantitative","title":"Time (h)"},"y":{"field":"v","type":"quantitative","title":"Hydrogen (mmol/L)","scale":{"domain":[0,78],"nice":false},"axis":{"values":[0,12,24,36,48,60,72],"orient":"right"}}}}
],"resolve":{"scale":{"y":"independent"}}}
],
"config":{
"font":"Liberation Serif",
"view":{"stroke":"black","strokeWidth":6},
"axis":{"labelFont":"Liberation Serif","labelFontWeight":"bold","labelFontSize":34,"labelColor":"black","titleFont":"Liberation Serif","titleFontWeight":"bold","titleFontSize":40,"titleColor":"black","tickColor":"black","tickWidth":3,"tickSize":6,"grid":false,"domain":false,"labelFlush":false,"labelOverlap":false,"labelPadding":4},
"axisX":{"labelPadding":3,"titlePadding":10},
"axisLeft":{"titlePadding":5,"titleFontSize":45},
"axisRight":{"titlePadding":8,"titleAngle":270,"titleBaseline":"top","titleFontSize":40},
"legend":{"labelFont":"Liberation Serif","labelFontSize":23,"labelFontWeight":"bold","labelColor":"black","symbolSize":400,"symbolStrokeWidth":3,"symbolOffset":19,"labelOffset":21,"columnPadding":16,"rowPadding":0,"padding":0,"symbolOpacity":1},
"title":{"font":"Liberation Serif","fontSize":38,"fontWeight":"bold","anchor":"start","frame":"group","baseline":"alphabetic","color":"black"}
}
}
